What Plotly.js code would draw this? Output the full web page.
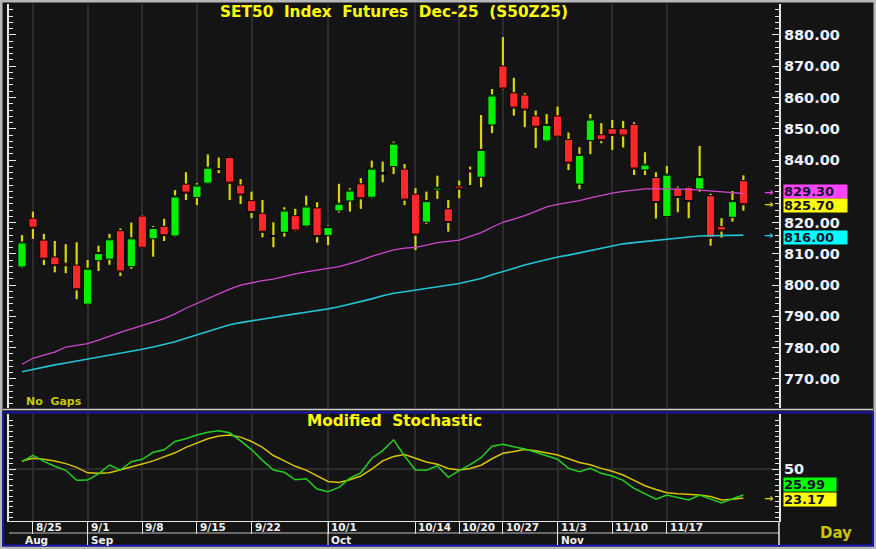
<!DOCTYPE html>
<html><head><meta charset="utf-8">
<script src="https://cdn.plot.ly/plotly-3.0.1.min.js"></script>
<style>html,body{margin:0;padding:0;background:#141414;overflow:hidden}#chart{width:876px;height:549px}</style>
</head><body><div id="chart"></div>
<script>
// ---- data ----
const dates = ['8/22','8/25','8/26','8/27','8/28','8/29','9/1','9/2','9/3','9/4','9/5','9/8','9/9','9/10','9/11','9/12','9/15','9/16','9/17','9/18','9/19','9/22','9/23','9/24','9/25','9/26','9/29','9/30','10/1','10/2','10/3','10/6','10/7','10/8','10/9','10/10','10/14','10/15','10/16','10/17','10/20','10/21','10/22','10/24','10/27','10/28','10/29','10/30','10/31','11/3','11/4','11/5','11/6','11/7','11/10','11/11','11/12','11/13','11/14','11/17','11/18','11/19','11/20','11/21','11/24','11/25','11/26'];
const open = [805.8,821.4,814.4,809.0,807.0,806.4,793.9,807.8,808.3,817.4,805.9,822.1,814.8,818.8,815.7,832.3,828.0,832.6,837.1,840.8,832.0,827.0,823.0,815.7,816.9,822.2,818.9,824.7,815.8,823.7,826.9,832.4,828.1,836.0,837.9,837.1,829.1,820.1,830.4,824.4,831.7,836.8,834.5,851.2,870.1,861.5,860.8,854.1,846.1,854.1,846.6,832.3,846.2,848.1,850.0,850.0,851.4,836.8,834.4,821.9,831.0,831.3,830.7,828.6,818.7,821.7,833.4];
const high = [816.0,823.5,816.4,814.1,813.1,813.7,808.0,812.6,816.4,818.1,820.0,822.4,818.9,821.2,830.4,836.1,832.6,841.8,840.8,841.0,833.9,829.9,827.2,820.1,824.9,824.4,828.6,826.5,819.1,832.4,831.0,834.2,839.8,839.5,845.9,838.7,831.0,829.9,835.0,827.2,833.4,837.9,854.4,862.7,879.3,866.3,861.4,855.8,854.7,857.1,848.8,844.1,854.7,851.8,852.8,852.5,852.1,842.5,836.1,838.1,831.5,831.5,844.5,829.2,821.4,830.1,835.1];
const low = [805.5,814.8,806.4,804.1,803.8,795.5,793.6,804.5,806.5,802.9,805.2,811.6,809.1,814.1,815.5,827.2,825.6,832.4,835.8,827.2,825.9,821.4,815.3,812.1,815.5,817.1,818.7,813.6,812.8,823.2,823.5,824.4,827.8,832.9,835.5,825.6,811.2,819.6,827.6,817.1,827.8,832.0,831.3,848.6,862.4,854.2,850.5,843.8,845.9,847.0,836.8,830.7,841.9,845.4,843.2,844.0,835.2,835.2,821.3,821.7,823.3,821.4,829.9,812.6,815.2,820.3,823.8];
const close = [813.8,818.2,808.3,806.2,806.2,798.5,805.4,810.4,814.8,804.2,815.1,811.8,818.4,815.8,828.5,829.4,832.0,837.7,837.1,832.6,828.8,823.2,816.9,815.7,824.0,817.3,825.3,815.5,818.7,826.2,830.4,827.6,837.4,835.5,845.4,827.2,816.0,827.0,831.3,820.0,830.7,836.2,843.4,860.8,862.7,856.6,856.0,850.5,851.4,847.3,839.0,841.8,853.1,846.2,847.9,847.7,837.1,838.7,826.4,835.5,828.0,826.7,834.7,815.0,817.3,827.0,825.7];
const maFast = [774.7,776.6,777.6,778.6,780.2,780.7,781.3,782.4,783.7,784.9,786.0,787.0,788.2,789.3,790.8,792.6,794.1,795.7,797.3,798.7,800.0,800.8,801.4,801.9,802.8,803.6,804.2,804.8,805.4,805.9,806.9,807.9,809.2,810.2,811.3,811.8,812.1,812.8,813.6,814.0,814.4,815.6,816.8,818.5,820.1,821.1,822.2,823.6,825.0,825.8,826.4,827.0,827.9,828.7,829.4,830.0,830.5,830.8,830.8,830.8,830.7,830.6,830.4,830.2,829.9,829.6,829.3];
const maSlow = [772.3,773.1,773.9,774.5,775.1,775.7,776.3,776.9,777.5,778.1,778.8,779.5,780.2,781.0,781.9,783.0,784.1,785.2,786.3,787.3,788.0,788.6,789.2,789.7,790.3,790.8,791.3,791.8,792.4,793.1,793.9,794.7,795.6,796.6,797.4,797.9,798.4,798.9,799.4,799.9,800.5,801.3,802.1,803.3,804.4,805.5,806.4,807.3,808.2,809.0,809.6,810.3,811.1,811.9,812.6,813.2,813.6,814.0,814.4,814.7,815.1,815.4,815.7,815.8,815.9,816.0,816.0];
const stochK = [56.8,62.7,57.0,52.5,48.8,39.5,39.8,45.5,53.7,49.1,56.8,59.0,65.5,67.8,75.5,78.0,81.5,84.0,85.5,83.5,76.0,68.0,58.0,49.0,47.0,40.0,41.0,31.5,29.0,33.0,41.5,46.5,60.0,67.0,77.0,62.0,49.1,48.8,53.0,42.3,48.5,54.0,60.5,71.0,72.8,71.0,68.5,65.5,62.5,59.0,50.6,47.5,50.6,46.0,43.5,39.5,32.0,27.0,22.0,26.0,24.0,21.3,26.0,22.0,18.5,22.5,25.99];
const stochD = [57.4,59.9,59.0,57.5,55.0,51.5,46.5,46.0,46.5,49.0,51.5,54.6,57.5,61.0,65.0,70.0,74.0,78.0,80.5,81.5,79.5,75.5,70.0,62.5,57.5,52.5,49.0,43.5,38.5,37.5,40.0,43.5,50.0,57.5,61.5,63.5,60.0,56.5,54.5,50.5,49.0,50.5,53.5,59.5,64.5,66.5,68.0,67.0,65.0,63.0,59.5,56.0,54.0,50.6,48.0,44.5,39.5,34.5,31.0,28.0,27.0,26.5,25.9,24.5,21.3,22.0,23.17];
const priceTicks = [770, 780, 790, 800, 810, 820, 840, 850, 860, 870, 880];
const stochTicks = [50];
const weekLabels = ['8/25','9/1','9/8','9/15','9/22','10/1','10/14','10/20','10/27','11/3','11/10','11/17'];
const monthLabels = ['Aug','Sep','Oct','Nov'];
const monthNums = ['8','9','10','11'];

// ---- derived ----
const xs = dates.map((d, i) => i);
const weekIdx = weekLabels.map(w => dates.indexOf(w));
const monthIdx = monthNums.map(m => dates.findIndex(d => d.split('/')[0] === m));
const bodyHigh = open.map((o, i) => Math.max(o, close[i]));
const bodyLow = open.map((o, i) => Math.min(o, close[i]));
const wickLen = high.map((h, i) => h - low[i]);
const last = dates.length - 1;

// geometry helpers (pixel -> paper)
const L = 9, R = 97, T = 4, B = 28, W = 876, H = 549;
const PW = W - L - R, PH = H - T - B;
const px = x => (x - L) / PW;
const py = y => (H - B - y) / PH;

const YEL = '#d8d800';
const boldF = (size, color) => ({family: 'DejaVu Sans', size: size, color: color, weight: 'bold'});

const traces = [
  {type: 'bar', x: xs, base: low, y: wickLen, width: 0.2, marker: {color: YEL, line: {width: 0}}, xaxis: 'x', yaxis: 'y', hoverinfo: 'skip'},
  {type: 'candlestick', x: xs, open: open, high: bodyHigh, low: bodyLow, close: close, xaxis: 'x', yaxis: 'y',
   increasing: {line: {color: '#000000', width: 1}, fillcolor: '#00f000'},
   decreasing: {line: {color: '#000000', width: 1}, fillcolor: '#ff2828'}, whiskerwidth: 0},
  {type: 'scatter', mode: 'lines', x: xs, y: maSlow, line: {color: '#22c4d4', width: 1.6}, xaxis: 'x', yaxis: 'y'},
  {type: 'scatter', mode: 'lines', x: xs, y: maFast, line: {color: '#d048d0', width: 1.3}, xaxis: 'x', yaxis: 'y'},
  {type: 'scatter', mode: 'lines', x: xs, y: stochD, line: {color: '#d8c400', width: 1.5}, xaxis: 'x', yaxis: 'y2'},
  {type: 'scatter', mode: 'lines', x: xs, y: stochK, line: {color: '#22d022', width: 1.5}, xaxis: 'x', yaxis: 'y2'}
];

const mainRange = [760.7, 889.9];
const stRange = [1.9, 100.9];
const mainDom = [py(408), 1];
const stDom = [0, py(414)];

const annotations = [];
annotations.push({xref: 'paper', yref: 'paper', x: 0.5, y: py(421), xanchor: 'center', yanchor: 'middle', showarrow: false,
  text: 'Modified\u00a0\u00a0Stochastic', font: boldF(15.3, '#ffff00')});
annotations.push({xref: 'paper', yref: 'paper', x: px(24), y: py(401), xanchor: 'left', yanchor: 'middle', showarrow: false,
  text: 'No\u00a0\u00a0Gaps', font: boldF(11, '#c8c800')});
annotations.push({xref: 'paper', yref: 'paper', x: px(818), y: py(533), xanchor: 'left', yanchor: 'middle', showarrow: false,
  text: 'Day', font: boldF(15, '#c8c400')});
weekLabels.forEach((w, i) => annotations.push({xref: 'x', yref: 'paper', x: weekIdx[i], xshift: 1, y: py(527), xanchor: 'left', yanchor: 'middle',
  showarrow: false, text: w, font: boldF(10.5, '#f0f0f0')}));
monthLabels.forEach((m, i) => annotations.push({xref: 'x', yref: 'paper', x: monthIdx[i], xshift: 1, y: py(540), xanchor: 'left', yanchor: 'middle',
  showarrow: false, text: m, font: boldF(10.5, '#f0f0f0')}));

function valBox(yref, val, bg, w, yshift) {
  annotations.push({xref: 'paper', yref: yref, x: px(783), y: val, yshift: yshift || 0, xanchor: 'left', yanchor: 'middle',
    showarrow: false, text: val.toFixed(2), bgcolor: bg, width: w, height: 13, borderpad: 0, align: 'left',
    font: boldF(13, '#10102a')});
}
function arrow(yref, val, col, yshift) {
  annotations.push({xref: 'paper', yref: yref, x: px(768), y: val, yshift: yshift || 0, xanchor: 'center', yanchor: 'middle',
    showarrow: false, text: '\u2192', font: {family: 'DejaVu Sans', size: 11, color: col, weight: 'bold'}});
}
valBox('y', maFast[last], '#ff44ff', 63, 2);
valBox('y', close[last], '#ffff00', 63, -1);
valBox('y', maSlow[last], '#00ffff', 63, -2);
arrow('y', maFast[last], '#e040e0', 1);
arrow('y', close[last], '#d8d800');
arrow('y', maSlow[last], '#20d0e0');
valBox('y2', stochK[last], '#00ff00', 52, 10);
valBox('y2', stochD[last], '#ffff00', 52, -1);
arrow('y2', stochD[last], '#c8d800');

const shapes = [
  {type: 'rect', xref: 'paper', yref: 'paper', x0: px(1), x1: px(875), y0: py(548), y1: py(1), line: {color: '#b8b8b8', width: 3}},
  {type: 'line', xref: 'paper', yref: 'paper', x0: px(3), x1: px(873), y0: py(409.5), y1: py(409.5), line: {color: '#cfcfcf', width: 1.5}},
  {type: 'rect', xref: 'paper', yref: 'paper', x0: px(3), x1: px(873), y0: py(545.5), y1: py(412.5), line: {color: '#1818a8', width: 2}},
  {type: 'line', xref: 'paper', yref: 'paper', x0: px(9), x1: px(779), y0: py(533), y1: py(533), line: {color: '#bdbdbd', width: 1}},
  {type: 'line', xref: 'paper', yref: 'paper', x0: 1, x1: 1, y0: py(545), y1: 0, line: {color: '#e8e8e8', width: 1.5}}
];
monthIdx.slice(1).forEach(m => shapes.push({type: 'line', xref: 'x', yref: 'paper', x0: m, x1: m, y0: py(545), y1: 0,
  line: {color: '#e8e8e8', width: 1}}));

const layout = {
  width: W, height: H,
  margin: {l: L, r: R, t: T, b: B, pad: 0},
  paper_bgcolor: '#141414', plot_bgcolor: '#141414',
  showlegend: false, hovermode: false,
  barmode: 'overlay', boxgap: 0.24, boxgroupgap: 0,
  title: {text: 'SET50\u00a0\u00a0Index\u00a0\u00a0Futures\u00a0\u00a0Dec-25\u00a0\u00a0(S50Z25)', xref: 'paper', x: 0.5, xanchor: 'center',
    yref: 'container', y: 1 - 12 / H, yanchor: 'middle', font: boldF(15.3, '#ffff00')},
  xaxis: {anchor: 'y2', range: [-1.19, 69.26], tickmode: 'array', tickvals: weekIdx, showticklabels: false,
    ticks: 'outside', ticklen: 12, tickwidth: 1, tickcolor: '#e8e8e8', showgrid: true, gridcolor: '#2c2c2c', gridwidth: 2,
    showline: true, linecolor: '#e8e8e8', linewidth: 1, zeroline: false, rangeslider: {visible: false}, fixedrange: true},
  yaxis: {domain: mainDom, range: mainRange, side: 'right', anchor: 'x', tickmode: 'array', tickvals: priceTicks,
    ticktext: priceTicks.map(v => v.toFixed(2)),
    ticks: 'inside', ticklen: 7, tickwidth: 1, tickcolor: '#e8e8e8', mirror: 'ticks', showline: true, linecolor: '#e8e8e8', linewidth: 2,
    showgrid: false, zeroline: false, tickfont: boldF(14.5, '#eef0ff'),
    minor: {tickmode: 'linear', tick0: 0, dtick: 2, ticks: 'inside', ticklen: 4, tickcolor: '#e8e8e8', tickwidth: 1}},
  yaxis3: {overlaying: 'y', anchor: 'x', side: 'right', range: mainRange, tick0: 0, dtick: 20, showgrid: true, gridcolor: '#2c2c2c', gridwidth: 2,
    showticklabels: false, ticks: '', showline: false, zeroline: false},
  yaxis2: {domain: stDom, range: stRange, side: 'right', anchor: 'x', tickmode: 'array', tickvals: stochTicks, ticktext: stochTicks.map(String),
    ticks: 'inside', ticklen: 7, tickwidth: 1, tickcolor: '#e8e8e8', mirror: 'ticks', showline: true, linecolor: '#e8e8e8', linewidth: 2,
    showgrid: true, gridcolor: '#2c2c2c', gridwidth: 2, zeroline: false, tickfont: boldF(14.5, '#eef0ff'),
    minor: {tickmode: 'linear', tick0: 0, dtick: 5, ticks: 'inside', ticklen: 4, tickcolor: '#e8e8e8', tickwidth: 1}},
  annotations: annotations,
  shapes: shapes
};

Plotly.newPlot('chart', traces, layout, {staticPlot: true, displayModeBar: false});
</script>
</body></html>
